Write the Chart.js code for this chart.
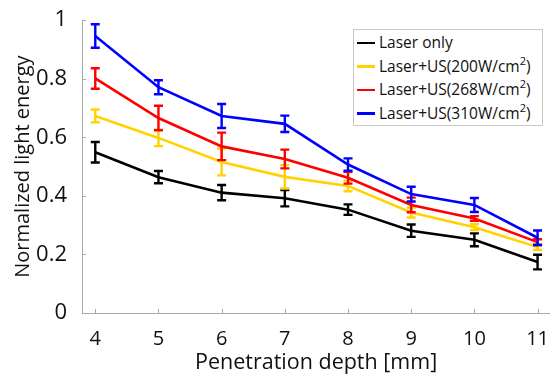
<!DOCTYPE html>
<html>
<head>
<meta charset="utf-8">
<script src="https://cdn.jsdelivr.net/npm/chart.js@4"></script>
<style>
  html, body { margin: 0; padding: 0; background: #fff; }
  #wrap { position: relative; width: 555px; height: 376px; }
  #legend {
    position: absolute; left: 353px; top: 29px; width: 190px; height: 97px;
    border: 1px solid #c8c8c8; background: #fff; box-sizing: border-box;
    font-family: "Open Sans", sans-serif; font-size: 15.5px; color: #111;
  }
  #legend div { position: absolute; left: 3px; height: 22px; line-height: 22px; white-space: nowrap; }
  #legend span.ln { display: inline-block; width: 18px; height: 2.5px; vertical-align: middle; margin-right: 4px; position: relative; top: -1px; }
  #legend sup { font-size: 11px; line-height: 0; vertical-align: 7px; }
</style>
</head>
<body>
<div id="wrap">
  <canvas id="lightChart" width="555" height="376"></canvas>
  <div id="legend"></div>
</div>
<script>
var depths = [4, 5, 6, 7, 8, 9, 10, 11];
var xTicks = [4, 5, 6, 7, 8, 9, 10, 11];
var yTicks = [0, 0.2, 0.4, 0.6, 0.8, 1];

var laserOnly = [0.549, 0.464, 0.411, 0.392, 0.353, 0.281, 0.250, 0.174];
var laserOnlyErr = [0.035, 0.021, 0.026, 0.028, 0.018, 0.021, 0.022, 0.025];
var us200 = [0.673, 0.598, 0.516, 0.465, 0.434, 0.343, 0.293, 0.225];
var us200Err = [0.022, 0.028, 0.046, 0.040, 0.018, 0.017, 0.010, 0.010];
var us268 = [0.801, 0.666, 0.569, 0.526, 0.462, 0.369, 0.323, 0.242];
var us268Err = [0.035, 0.042, 0.047, 0.032, 0.020, 0.025, 0.008, 0.010];
var us310 = [0.946, 0.771, 0.673, 0.646, 0.507, 0.406, 0.369, 0.257];
var us310Err = [0.040, 0.024, 0.041, 0.028, 0.021, 0.025, 0.024, 0.025];

var seriesNames = ["Laser only", "Laser+US(200W/cm<sup>2</sup>)", "Laser+US(268W/cm<sup>2</sup>)", "Laser+US(310W/cm<sup>2</sup>)"];
var seriesLabels = ["Laser only", "Laser+US(200W/cm²)", "Laser+US(268W/cm²)", "Laser+US(310W/cm²)"];
var seriesColors = ["#000000", "#ffd200", "#ff0000", "#0000ff"];
var seriesValues = [laserOnly, us200, us268, us310];
var seriesErrors = [laserOnlyErr, us200Err, us268Err, us310Err];

function toPoints(values) {
  return values.map(function (v, i) { return { x: depths[i], y: v }; });
}

// error bars drawn right after each line, so later series cover earlier ones
var errorBars = {
  id: "errorBars",
  afterDatasetDraw: function (chart, args) {
    var ds = chart.data.datasets[args.index];
    var xs = chart.scales.x, ys = chart.scales.y;
    var c = chart.ctx;
    c.save();
    c.strokeStyle = ds.borderColor;
    c.lineWidth = 2.4;
    ds.data.forEach(function (p, i) {
      var e = ds.errors[i];
      var px = xs.getPixelForValue(p.x);
      var top = ys.getPixelForValue(p.y + e);
      var bot = ys.getPixelForValue(p.y - e);
      c.beginPath();
      c.moveTo(px, top); c.lineTo(px, bot);
      c.moveTo(px - 4.5, top); c.lineTo(px + 4.5, top);
      c.moveTo(px - 4.5, bot); c.lineTo(px + 4.5, bot);
      c.stroke();
    });
    c.restore();
  }
};

// matlab style axes: two gray lines with inward ticks
var axesLines = {
  id: "axesLines",
  beforeDatasetsDraw: function (chart) {
    var a = chart.chartArea, xs = chart.scales.x, ys = chart.scales.y;
    var c = chart.ctx;
    c.save();
    c.strokeStyle = "#aaaaaa";
    c.lineWidth = 1;
    c.beginPath();
    c.moveTo(a.left + 0.5, a.top); c.lineTo(a.left + 0.5, a.bottom + 0.5);
    c.lineTo(a.right, a.bottom + 0.5);
    xTicks.forEach(function (t) {
      var px = Math.round(xs.getPixelForValue(t)) + 0.5;
      c.moveTo(px, a.bottom); c.lineTo(px, a.bottom - 4);
    });
    yTicks.forEach(function (t) {
      var py = Math.round(ys.getPixelForValue(t)) + 0.5;
      c.moveTo(a.left, py); c.lineTo(a.left + 4, py);
    });
    c.stroke();
    c.restore();
  }
};

var datasets = seriesValues.map(function (vals, i) {
  return {
    label: seriesLabels[i],
    data: toPoints(vals),
    errors: seriesErrors[i],
    borderColor: seriesColors[i],
    backgroundColor: seriesColors[i],
    borderWidth: 2.6,
    pointRadius: 0,
    tension: 0,
    order: 4 - i
  };
});

var ctx = document.getElementById("lightChart");
var myChart = new Chart(ctx, {
  type: "line",
  data: { datasets: datasets },
  options: {
    responsive: false,
    animation: false,
    layout: { padding: { top: 18, right: 0, left: 0, bottom: 0 } },
    plugins: { legend: { display: false }, tooltip: { enabled: false } },
    scales: {
      x: {
        type: "linear",
        min: 3.79,
        max: 11.2,
        afterBuildTicks: function (scale) {
          scale.ticks = xTicks.map(function (v) { return { value: v }; });
        },
        afterFit: function (scale) { scale.height = 63; },
        grid: { display: false },
        border: { display: false },
        ticks: { color: "#111", font: { family: "Open Sans", size: 20 }, padding: 6, maxRotation: 0,
          callback: function (v) { return String(v); } },
        title: { display: true, text: "Penetration depth [mm]", color: "#111",
          font: { family: "Open Sans", size: 21.5 }, padding: { top: 0, bottom: 0 } }
      },
      y: {
        min: 0,
        max: 1,
        afterBuildTicks: function (scale) {
          scale.ticks = yTicks.map(function (v) { return { value: v }; });
        },
        afterFit: function (scale) { scale.width = 82; },
        grid: { display: false },
        border: { display: false },
        ticks: { color: "#111", font: { family: "Open Sans", size: 22 }, padding: 7,
          callback: function (v) { return String(Math.round(v * 10) / 10); } },
        title: { display: true, text: "Normalized light energy", color: "#111",
          font: { family: "Open Sans", size: 20 }, padding: { top: 11, bottom: 0 } }
      }
    }
  },
  plugins: [axesLines, errorBars]
});

var legend = document.getElementById("legend");
seriesNames.forEach(function (name, i) {
  var row = document.createElement("div");
  row.style.top = (1 + i * 23.5) + "px";
  row.innerHTML = '<span class="ln" style="background:' + seriesColors[i] + '"></span>' + name;
  legend.appendChild(row);
});
</script>
</body>
</html>
